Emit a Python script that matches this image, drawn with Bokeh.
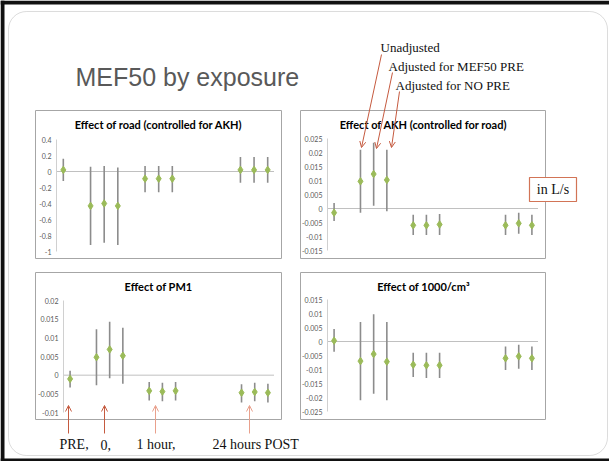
from bokeh.plotting import figure
from bokeh.models import Range1d, FixedTicker, Span, BoxAnnotation, Arrow, OpenHead, LinearAxis, ColumnDataSource
from bokeh.layouts import column
from bokeh.embed import file_html
from bokeh.resources import INLINE
from bokeh.core.properties import value

# ---------------- data ----------------
# category slots on the x axis (16 slots, empty slots between time groups)
slot = [0, 2, 3, 4, 6, 7, 8, 13, 14, 15]

road_est = [0.02, -0.43, -0.40, -0.43, -0.09, -0.09, -0.09, 0.02, 0.02, 0.02]
road_lo = [-0.12, -0.92, -0.89, -0.92, -0.26, -0.26, -0.26, -0.14, -0.14, -0.14]
road_hi = [0.16, 0.06, 0.07, 0.05, 0.07, 0.07, 0.07, 0.18, 0.18, 0.18]
road_ticks = [0.4, 0.2, 0, -0.2, -0.4, -0.6, -0.8, -1]
road_labels = ["0.4", "0.2", "0", "-0.2", "-0.4", "-0.6", "-0.8", "-1"]

akh_est = [-0.0015, 0.0097, 0.0123, 0.0102, -0.0060, -0.0060, -0.0057, -0.0060, -0.0053, -0.0060]
akh_lo = [-0.0045, -0.0015, 0.0010, -0.0010, -0.0095, -0.0095, -0.0095, -0.0095, -0.0090, -0.0095]
akh_hi = [0.0020, 0.0210, 0.0235, 0.0210, -0.0022, -0.0022, -0.0020, -0.0022, -0.0015, -0.0022]
akh_ticks = [0.025, 0.02, 0.015, 0.01, 0.005, 0, -0.005, -0.01, -0.015]
akh_labels = ["0.025", "0.02", "0.015", "0.01", "0.005", "0", "-0.005", "-0.01", "-0.015"]

pm1_est = [-0.0010, 0.0048, 0.0069, 0.0052, -0.0042, -0.0044, -0.0042, -0.0047, -0.0045, -0.0047]
pm1_lo = [-0.0033, -0.0027, -0.0008, -0.0023, -0.0068, -0.0070, -0.0068, -0.0073, -0.0070, -0.0073]
pm1_hi = [0.0012, 0.0123, 0.0143, 0.0127, -0.0018, -0.0020, -0.0018, -0.0024, -0.0020, -0.0023]
pm1_ticks = [0.02, 0.015, 0.01, 0.005, 0, -0.005, -0.01]
pm1_labels = ["0.02", "0.015", "0.01", "0.005", "0", "-0.005", "-0.01"]

pnc_est = [0.0003, -0.0070, -0.0045, -0.0072, -0.0083, -0.0085, -0.0085, -0.0060, -0.0053, -0.0060]
pnc_lo = [-0.0037, -0.0210, -0.0187, -0.0210, -0.0127, -0.0130, -0.0130, -0.0102, -0.0097, -0.0102]
pnc_hi = [0.0045, 0.0070, 0.0097, 0.0070, -0.0040, -0.0040, -0.0040, -0.0018, -0.0012, -0.0018]
pnc_ticks = [0.015, 0.01, 0.005, 0, -0.005, -0.01, -0.015, -0.02, -0.025]
pnc_labels = ["0.015", "0.01", "0.005", "0", "-0.005", "-0.01", "-0.015", "-0.02", "-0.025"]

panel_titles = ["Effect of road (controlled for AKH)", "Effect of AKH (controlled for road)",
                "Effect of PM1", "Effect of 1000/cm\u00b3"]
slide_title = "MEF50 by exposure"
legend_labels = ["Unadjusted", "Adjusted for MEF50 PRE", "Adjusted for NO PRE"]
time_labels = ["PRE,", "0,", "1 hour,", "24 hours POST"]
unit_label = "in L/s"

# ---------------- styles ----------------
W, H = 609, 461
BL, BR, BT, BB = 30, 0, 8, 8      # identical side borders on every figure (frames stay put)
SERIF = value("Liberation Serif")
SANS = value("Liberation Sans")
TICKFONT = "Lato"
GREEN = "#9bbb59"
BAR = "#8c8c8c"
RED = "#c55a3f"
RED_LIGHT = "#e9a08c"


def abs_pos(fig, left, top):
    fig.styles = {"position": "absolute", "left": f"{left}px", "top": f"{top}px"}


# ---------------- background slide ----------------
bg = figure(width=W + BL + BR, height=H + BT, x_range=Range1d(0, W), y_range=Range1d(H, 0),
            output_backend="svg", toolbar_location=None, x_axis_type=None, y_axis_type=None,
            title=None, min_border_left=BL, min_border_right=BR, min_border_top=BT,
            min_border_bottom=0, outline_line_color=None)
bg.xgrid.visible = False
bg.ygrid.visible = False

# dark frame of the screenshot
bg.quad(left=[0, 0, 0], right=[W, 4, W], top=[0, 0, 458], bottom=[4, H, H],
        fill_color="#111111", line_color=None)
bg.add_layout(BoxAnnotation(left=8, right=607, top=11, bottom=455, border_radius=18,
                            fill_color="white", fill_alpha=1, line_color="#8a8a8a",
                            line_width=1, level="underlay"))

# panel boxes
box_l = [35, 300, 35, 300]
box_r = [281, 545, 281, 545]
box_t = [110, 110, 272, 272]
box_b = [258, 258, 419, 419]
bg.quad(left=box_l, right=box_r, top=box_t, bottom=box_b,
        fill_color="white", line_color="#a6a6a6", line_width=1)

# slide title
bg.text(x=[75], y=[76], text=[slide_title], text_font=SANS, text_font_size="25px",
        text_color="#595959", text_baseline="middle", text_align="left")

# panel titles
bg.text(x=[158, 423, 158, 423], y=[124, 124, 286, 286], text=panel_titles,
        text_font=value("Lato"), text_font_style="bold", text_font_size="11px",
        text_color="#000000", text_baseline="middle", text_align="center")

# legend labels with pointer lines into the AKH panel
bg.text(x=[380, 388, 395], y=[47, 66, 85], text=legend_labels, text_font=SERIF,
        text_font_size="13px", text_color="#111111", text_baseline="middle", text_align="left")
for xs, ys, xe, ye in [(381, 54, 361, 147), (392, 72, 376, 148), (399, 91, 391, 147)]:
    bg.add_layout(Arrow(x_start=xs, y_start=ys, x_end=xe, y_end=ye, line_color=RED, line_width=1,
                        end=OpenHead(size=6, line_color=RED, line_width=1)))

# unit box
bg.quad(left=[529], right=[576], top=[177], bottom=[201], fill_color="white",
        line_color="#d27456", line_width=1.2)
bg.text(x=[552.5], y=[189], text=[unit_label], text_font=SERIF, text_font_size="14px",
        text_color="#111111", text_baseline="middle", text_align="center")

# time-point arrows and labels
for xa, col in [(68, RED), (104, RED), (155, RED_LIGHT), (249, RED_LIGHT)]:
    bg.add_layout(Arrow(x_start=xa, y_start=433, x_end=xa, y_end=405, line_color=col, line_width=1,
                        end=OpenHead(size=6, line_color=col, line_width=1)))
bg.text(x=[59, 100, 136, 212], y=[444, 444, 444, 444], text=time_labels, text_font=SERIF,
        text_font_size="14px", text_color="#111111", text_baseline="middle", text_align="left")

abs_pos(bg, 0, 0)


# ---------------- panels ----------------
def panel(est, lo, hi, ticks, labels, frame_left, frame_top, fw):
    p = figure(width=BL + fw + BR, height=BT + 112 + BB,
               x_range=Range1d(-0.5, 15.5), y_range=Range1d(min(ticks), max(ticks)),
               output_backend="svg", toolbar_location=None, x_axis_type=None, y_axis_type=None,
               title=None, min_border_left=BL, min_border_right=BR, min_border_top=BT,
               min_border_bottom=BB, outline_line_color=None,
               background_fill_alpha=0, border_fill_alpha=0)
    p.xgrid.visible = False
    p.ygrid.visible = False
    ax = LinearAxis(ticker=FixedTicker(ticks=ticks),
                    major_label_overrides={t: l for t, l in zip(ticks, labels)},
                    major_tick_out=0, major_tick_in=0, minor_tick_out=0, minor_tick_in=0,
                    axis_line_color="#d0d0d0", axis_line_width=1,
                    major_label_text_font=TICKFONT, major_label_text_font_size="7px",
                    major_label_text_color="#595959", major_label_standoff=5)
    p.add_layout(ax, "left")
    p.add_layout(Span(location=0, dimension="width", line_color="#c0c0c0", line_width=1,
                      level="underlay"))
    src = ColumnDataSource(dict(x=slot, est=est, lo=lo, hi=hi))
    p.segment(x0="x", y0="lo", x1="x", y1="hi", source=src, line_color=BAR, line_width=1.6)
    p.scatter(x="x", y="est", source=src, marker="diamond", size=7.5,
              fill_color=GREEN, line_color=GREEN)
    # positions are relative to the layout box, which sits at (-BL, -BT) on the page
    abs_pos(p, frame_left, frame_top)
    return p


p1 = panel(road_est, road_lo, road_hi, road_ticks, road_labels, 56, 139, 218)
p2 = panel(akh_est, akh_lo, akh_hi, akh_ticks, akh_labels, 327, 138, 211)
p3 = panel(pm1_est, pm1_lo, pm1_hi, pm1_ticks, pm1_labels, 63, 300, 211)
p4 = panel(pnc_est, pnc_lo, pnc_hi, pnc_ticks, pnc_labels, 327, 299, 211)

layout = column(bg, p1, p2, p3, p4, width=W + BL, height=H + BT,
                styles={"overflow": "hidden", "position": "absolute",
                        "left": f"{-BL}px", "top": f"{-BT}px"})

open("out.html", "w").write(file_html(layout, INLINE))
